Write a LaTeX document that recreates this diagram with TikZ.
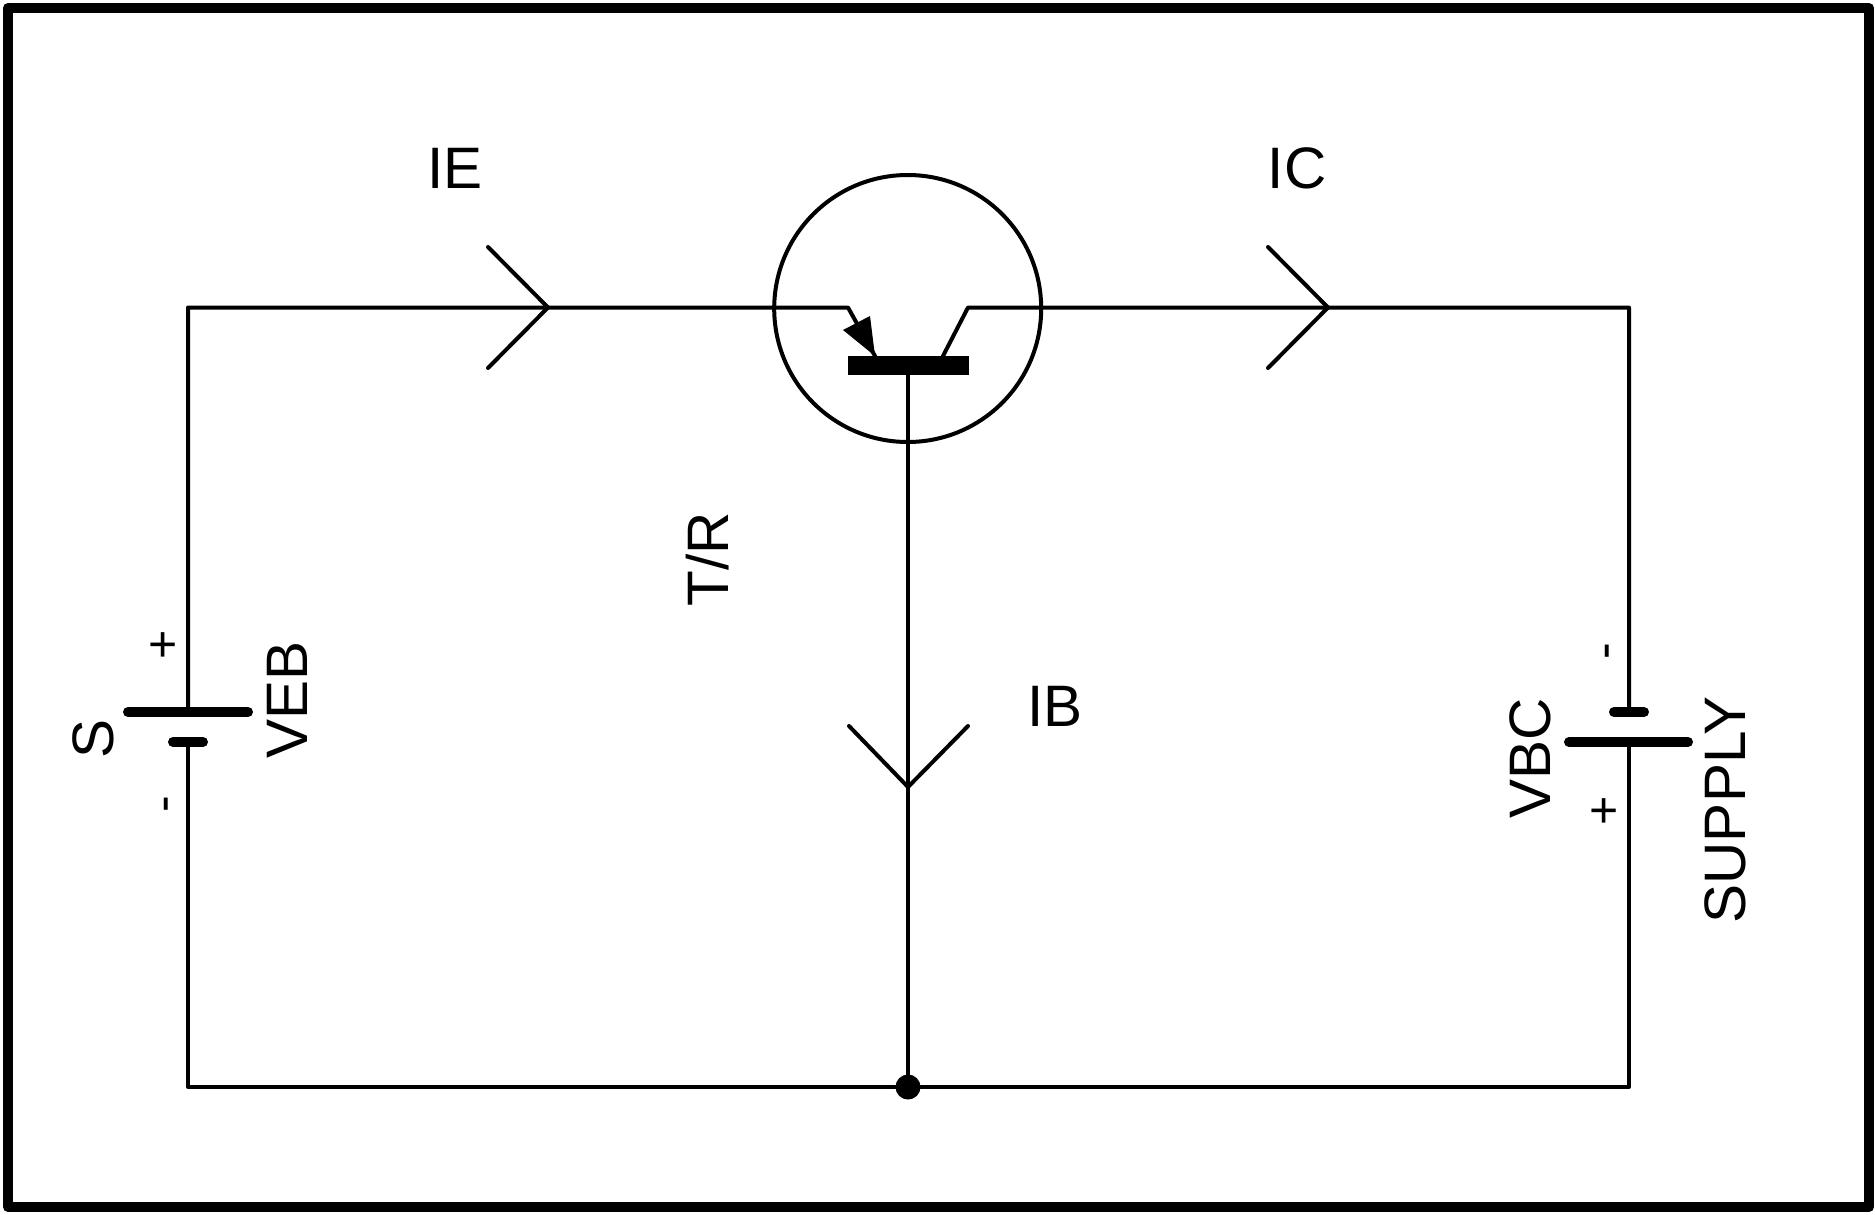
\documentclass[tikz,border=0pt]{standalone}
\usepackage{fontspec}
\setmainfont{Liberation Sans}
\begin{document}
\begin{tikzpicture}[x=1pt,y=-1pt,
  wire/.style={line width=4pt,line cap=round,line join=round},
  plate/.style={line width=10pt,line cap=round},
  lbl/.style={inner sep=0pt,font=\fontsize{58.5}{60}\selectfont},
  sgn/.style={inner sep=0pt,font=\fontsize{50}{52}\selectfont}]
\useasboundingbox (0,0) rectangle (1875,1215);
\fill[white] (0,0) rectangle (1875,1215);
\draw[line width=10pt,line join=round] (8,8) rectangle (1869,1207);
% corners and junctions
\coordinate (tl) at (188,307.5);
\coordinate (tr) at (1629,307.5);
\coordinate (bl) at (188,1087);
\coordinate (br) at (1629,1087);
\coordinate (e0) at (848,307.5);
\coordinate (e1) at (875,356);
\coordinate (c0) at (968,307.5);
\coordinate (c1) at (943,356);
\coordinate (bb) at (908,375);
% left battery
\coordinate (la) at (128,712); \coordinate (lb) at (248,712);
\coordinate (lc) at (173,742); \coordinate (ld) at (203,742);
\coordinate (lt) at (188,712); \coordinate (lu) at (188,742);
% right battery
\coordinate (ra) at (1569,742); \coordinate (rb) at (1688,742);
\coordinate (rc) at (1614,712); \coordinate (rd) at (1644,712);
\coordinate (rt) at (1629,712); \coordinate (ru) at (1629,742);
% junction dot
\node[circle,fill=black,inner sep=0pt,minimum size=25pt] (j) at (908,1087) {};
% transistor
\node[circle,draw,line width=4pt,inner sep=0pt,minimum size=267pt] (t) at (907.7,308.5) {};
\node[rectangle,fill=black,inner sep=0pt,minimum width=121pt,minimum height=19pt] (bar) at (908.5,365.5) {};
% wires
\draw[wire] (lt) -- (tl) -- (e0) -- (e1);
\draw[wire] (c1) -- (c0) -- (tr) -- (rt);
\draw[wire] (lu) -- (bl) -- (j);
\draw[wire] (ru) -- (br) -- (j);
\draw[wire] (bb) -- (j);
\draw[plate] (la) -- (lb);
\draw[plate] (lc) -- (ld);
\draw[plate] (ra) -- (rb);
\draw[plate] (rc) -- (rd);
% emitter arrowhead
\coordinate (ah1) at (843,330);
\coordinate (ah2) at (870,316);
\fill (e1) -- (ah1) -- (ah2) -- cycle;
% current chevrons
\coordinate (ie) at (548,307.5); \coordinate (ie1) at (488,247); \coordinate (ie2) at (488,368);
\coordinate (ic) at (1328,307.5); \coordinate (ic1) at (1268,247); \coordinate (ic2) at (1268,368);
\coordinate (ib) at (908,787); \coordinate (ib1) at (849,726); \coordinate (ib2) at (968,726);
\draw[wire] (ie1) -- (ie) -- (ie2);
\draw[wire] (ic1) -- (ic) -- (ic2);
\draw[wire] (ib1) -- (ib) -- (ib2);
% labels
\node[lbl] (nIE) at (455,168) {IE};
\node[lbl] (nIC) at (1297,168) {IC};
\node[lbl] (nIB) at (1055,706) {IB};
\node[lbl,rotate=90] (nTR) at (708,559.5) {T/R};
\node[lbl,rotate=90] (nS) at (93,739) {S};
\node[lbl,rotate=90] (nVEB) at (287.5,700) {VEB};
\node[lbl,rotate=90] (nVBC) at (1530.5,758) {VBC};
\node[lbl,rotate=90] (nSUP) at (1725,810) {SUPPLY};
\node[sgn] (p1) at (163,647) {+};
\node[sgn,rotate=90] (m1) at (172,804) {-};
\node[sgn,rotate=90] (m2) at (1613,651) {-};
\node[sgn] (p2) at (1604,813) {+};
\end{tikzpicture}
\end{document}
